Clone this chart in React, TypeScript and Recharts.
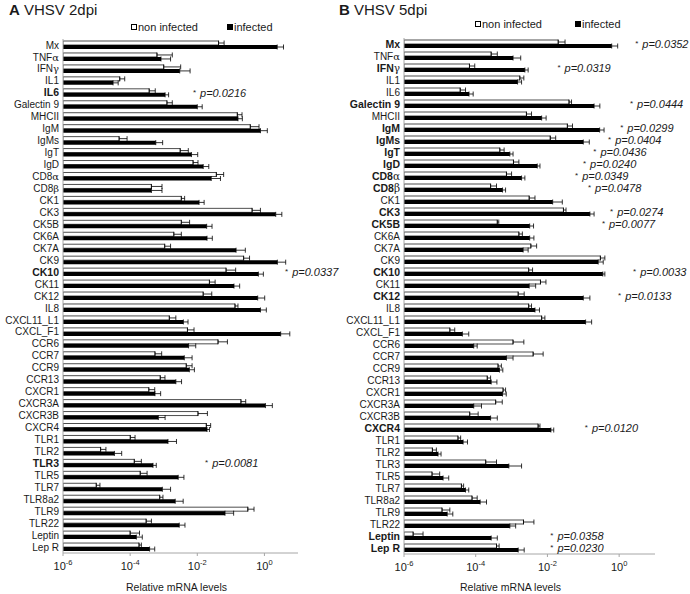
import React from 'react';
import { BarChart, Bar, XAxis, YAxis, ErrorBar, Legend, ReferenceDot } from 'recharts';

const genes = [
  'Mx', 'TNFα', 'IFNγ', 'IL1', 'IL6', 'Galectin 9', 'MHCII', 'IgM', 'IgMs', 'IgT', 'IgD', 'CD8α', 'CD8β',
  'CK1', 'CK3', 'CK5B', 'CK6A', 'CK7A', 'CK9', 'CK10', 'CK11', 'CK12', 'IL8', 'CXCL11_L1', 'CXCL_F1',
  'CCR6', 'CCR7', 'CCR9', 'CCR13', 'CXCR1', 'CXCR3A', 'CXCR3B', 'CXCR4', 'TLR1', 'TLR2', 'TLR3', 'TLR5',
  'TLR7', 'TLR8a2', 'TLR9', 'TLR22', 'Leptin', 'Lep R',
];

const xTicks = [1e-6, 1e-4, 1e-2, 1];

// 2 dpi - mean and top of error bar
const nonInf2 = [
  4.3e-2, 6.3e-4, 1.0e-3, 4.9e-5, 3.7e-4, 1.25e-3, 0.156, 0.38, 4.7e-5, 3.1e-3, 7.5e-3, 3.7e-2, 4.3e-4,
  3.35e-3, 0.43, 3.35e-3, 2.0e-3, 1.07e-3, 0.24, 7.2e-2, 2.3e-2, 1.5e-2, 0.133, 1.47e-3, 5.1e-3,
  4.15e-2, 5.5e-4, 4.7e-3, 7.9e-4, 3.6e-4, 0.2, 1.05e-2, 1.86e-2, 1.01e-4, 1.32e-5, 1.33e-4, 2.0e-4,
  9.8e-6, 7.6e-4, 0.32, 3.0e-4, 1.0e-4, 1.84e-4,
];
const nonInf2Top = [
  6.3e-2, 1.8e-3, 3.2e-3, 6.9e-5, 5.6e-4, 1.8e-3, 0.215, 0.69, 8.1e-5, 5.4e-3, 1.05e-2, 6.1e-2, 8.9e-4,
  4.2e-3, 0.76, 5.9e-3, 3.35e-3, 1.6e-3, 0.36, 0.139, 3.4e-2, 2.7e-2, 0.163, 2.3e-3, 8.0e-3,
  7.9e-2, 8.7e-4, 7.0e-3, 1.09e-3, 5.4e-4, 0.277, 2.0e-2, 2.5e-2, 1.4e-4, 1.9e-5, 2.16e-4, 3.2e-4,
  1.26e-5, 9.5e-4, 0.49, 4.3e-4, 1.9e-4, 2.16e-4,
];
const inf2 = [
  2.4, 8.3e-4, 3.0e-3, 3.1e-5, 1.1e-3, 1.0e-2, 0.163, 0.76, 5.8e-4, 6.7e-3, 1.5e-2, 2.6e-2, 4.3e-4,
  1.13e-2, 2.17, 1.9e-2, 1.95e-2, 0.143, 2.43, 0.66, 0.124, 0.63, 0.76, 3.85e-3, 3.05,
  5.5e-3, 4.1e-3, 5.8e-3, 2.3e-3, 5.5e-4, 1.07, 6.9e-4, 1.95e-2, 1.34e-3, 3.4e-5, 4.8e-4, 2.7e-3,
  9.1e-4, 2.2e-3, 6.7e-2, 2.9e-3, 1.53e-4, 3.8e-4,
];
const inf2Top = [
  3.7, 1.6e-3, 6.1e-3, 4.4e-5, 1.4e-3, 1.4e-2, 0.22, 1.22, 9.3e-4, 1.03e-2, 2.2e-2, 4.9e-2, 8.9e-4,
  1.6e-2, 3.3, 2.75e-2, 2.8e-2, 0.27, 4.3, 0.93, 0.183, 1.02, 1.14, 5.3e-3, 5.7,
  9.0e-3, 7.0e-3, 8.2e-3, 3.4e-3, 8.1e-4, 1.72, 1.1e-3, 2.3e-2, 2.4e-3, 5.6e-5, 6.0e-4, 4.0e-3,
  1.6e-3, 3.8e-3, 0.121, 4.3e-3, 2.3e-4, 5.4e-4,
];

// 5 dpi
const nonInf5 = [
  2.0e-2, 2.7e-4, 6.7e-5, 1.7e-3, 3.7e-5, 4.0e-2, 2.6e-3, 3.6e-2, 1.2e-2, 4.7e-4, 1.13e-3, 7.2e-4, 2.6e-4,
  3.1e-3, 2.8e-2, 4.0e-4, 1.6e-3, 3.45e-3, 0.3, 3.0e-3, 6.4e-3, 1.53e-3, 3.0e-3, 6.9e-3, 1.9e-5,
  1.1e-3, 4.0e-3, 4.2e-4, 2.1e-4, 5.8e-4, 3.6e-4, 6.8e-5, 5.5e-3, 3.2e-5, 6.2e-6, 1.9e-4, 6.05e-6,
  4.0e-5, 7.9e-5, 1.15e-5, 2.15e-3, 1.8e-6, 3.8e-4,
];
const nonInf5Top = [
  3.1e-2, 4.0e-4, 9.4e-5, 2.2e-3, 5.2e-5, 4.7e-2, 3.6e-3, 5.0e-2, 1.7e-2, 6.2e-4, 1.6e-3, 1.0e-3, 3.8e-4,
  4.5e-3, 3.3e-2, 4.4e-4, 2.0e-3, 5.0e-3, 0.4, 3.85e-3, 9.1e-3, 2.25e-3, 3.6e-3, 8.5e-3, 2.6e-5,
  2.2e-3, 7.6e-3, 5.2e-4, 2.6e-4, 6.8e-4, 5.5e-4, 1.17e-4, 6.2e-3, 3.8e-5, 8.0e-6, 3.8e-4, 9.9e-6,
  4.6e-5, 1.1e-4, 1.9e-5, 4.2e-3, 3.4e-6, 4.5e-4,
];
const inf5 = [
  0.62, 1.1e-3, 2.35e-3, 1.47e-3, 6.5e-5, 0.2, 6.9e-3, 0.286, 0.1, 8.95e-4, 5.2e-3, 1.9e-3, 5.6e-4,
  1.4e-2, 0.153, 3.2e-3, 3.2e-3, 2.1e-3, 0.26, 0.35, 3.1e-3, 0.1, 4.5e-3, 0.116, 4.25e-5,
  8.8e-5, 7.2e-4, 4.6e-4, 2.7e-4, 5.6e-4, 8.8e-5, 2.6e-4, 1.25e-2, 4.45e-5, 8.9e-6, 8.4e-4, 1.23e-5,
  5.2e-5, 1.33e-4, 1.6e-5, 8.95e-4, 2.7e-4, 1.53e-3,
];
const inf5Top = [
  0.91, 1.8e-3, 2.9e-3, 1.9e-3, 8.5e-5, 0.29, 9.2e-3, 0.38, 0.147, 1.1e-3, 6.2e-3, 2.35e-3, 6.8e-4,
  2.6e-2, 0.2, 4.1e-3, 4.2e-3, 2.9e-3, 0.36, 0.4, 4.7e-3, 0.153, 6.0e-3, 0.171, 6.4e-5,
  1.1e-4, 1.1e-3, 5.7e-4, 3.9e-4, 7.1e-4, 1.45e-4, 4.0e-4, 1.5e-2, 5.9e-5, 1.08e-5, 1.9e-3, 1.77e-5,
  6.4e-5, 2.0e-4, 2.3e-5, 1.3e-3, 4.0e-4, 2.25e-3,
];

// significance notes: gene, p value, x value where the note starts
const notes2 = [
  { gene: 'IL6', p: '0.0216', at: 7.4e-3 },
  { gene: 'CK10', p: '0.0337', at: 4.1 },
  { gene: 'TLR3', p: '0.0081', at: 1.7e-2 },
];
const notes5 = [
  { gene: 'Mx', p: '0.0352', at: 2.8 },
  { gene: 'IFNγ', p: '0.0319', at: 1.9e-2 },
  { gene: 'Galectin 9', p: '0.0444', at: 2.0 },
  { gene: 'IgM', p: '0.0299', at: 1.07 },
  { gene: 'IgMs', p: '0.0404', at: 0.49 },
  { gene: 'IgT', p: '0.0436', at: 0.19 },
  { gene: 'IgD', p: '0.0240', at: 0.098 },
  { gene: 'CD8α', p: '0.0349', at: 0.059 },
  { gene: 'CD8β', p: '0.0478', at: 0.135 },
  { gene: 'CK3', p: '0.0274', at: 0.56 },
  { gene: 'CK5B', p: '0.0077', at: 0.33 },
  { gene: 'CK10', p: '0.0033', at: 2.45 },
  { gene: 'CK12', p: '0.0133', at: 0.93 },
  { gene: 'CXCR4', p: '0.0120', at: 0.11 },
  { gene: 'Leptin', p: '0.0358', at: 1.2e-2 },
  { gene: 'Lep R', p: '0.0230', at: 1.2e-2 },
];

type Note = { gene: string; p: string; at: number };

const buildRows = (non: number[], nonTop: number[], inf: number[], infTop: number[]) =>
  genes.map((gene, i) => ({
    gene,
    non: non[i],
    nonErr: [0, Math.max(0, nonTop[i] - non[i])],
    inf: inf[i],
    infErr: [0, Math.max(0, infTop[i] - inf[i])],
  }));

const TEXT = '#1a1a1a';
const AXIS = '#a6a6a6';

const GeneTick = ({ x, y, payload, bold }: any) => {
  const name: string = payload.value;
  const greek = /[αβγ]$/.test(name);
  const isBold = bold.has(name);
  return (
    <text x={x} y={y} dy={3.6} textAnchor="end" fontSize={isBold ? 10.5 : 10} fontWeight={isBold ? 'bold' : 'normal'} fill={TEXT}>
      {greek ? name.slice(0, -1) : name}
      {greek && <tspan fontFamily="'DejaVu Serif', serif" fontWeight="normal">{name.slice(-1)}</tspan>}
    </text>
  );
};

const PowerTick = ({ x, y, payload }: any) => {
  const exp = Math.round(Math.log10(payload.value));
  return (
    <text x={x} y={y + 12} textAnchor="middle" fontSize={11} fill={TEXT}>
      10<tspan fontSize={7.5} dy={-5}>{exp}</tspan>
    </text>
  );
};

const PNote = ({ viewBox, x, y, p }: any) => {
  const vx = viewBox ? viewBox.x : x;
  const vy = viewBox ? viewBox.y : y;
  return (
    <text x={vx} y={vy + 4} fontSize={11} fill={TEXT}>
      <tspan fontSize={8} dy={-2}>*</tspan>
      <tspan dx={4} dy={2} fontStyle="italic">p={p}</tspan>
    </text>
  );
};

const KeyItem = ({ left, top, label, fill }: any) => (
  <div style={{ position: 'absolute', left, top, display: 'flex', alignItems: 'center', whiteSpace: 'nowrap', lineHeight: '12px' }}>
    <span style={{ width: 4, height: 4, border: '1px solid #000', background: fill, marginRight: 1 }} />
    {label}
  </div>
);

const Panel = ({ left, rows, notes, yWidth, marginRight, top, labelDx, key1, key2, keyTop }: any) => {
  const bold = new Set(notes.map((n: Note) => n.gene));
  return (
    <div style={{ position: 'absolute', left, top: 0 }}>
      <BarChart
        width={345}
        height={594}
        data={rows}
        layout="vertical"
        margin={{ top, right: marginRight, bottom: 0, left: 0 }}
        barGap={0}
        barSize={4}
      >
        <XAxis
          type="number"
          scale="log"
          domain={[1e-6, 10]}
          allowDataOverflow
          ticks={xTicks}
          tick={<PowerTick />}
          tickSize={3}
          tickMargin={2}
          stroke={AXIS}
          height={594 - top - (top === 39 ? 514 : 516)}
          label={{ value: 'Relative mRNA levels', position: 'insideBottom', offset: 3, dx: labelDx, fontSize: 10.5, fill: TEXT }}
        />
        <YAxis
          type="category"
          dataKey="gene"
          width={yWidth}
          interval={0}
          tickLine={false}
          tickSize={0}
          tickMargin={4}
          stroke={AXIS}
          tick={(props: any) => <GeneTick {...props} bold={bold} />}
        />
        <Legend
          verticalAlign="middle"
          align="center"
          wrapperStyle={{ top: 0, left: 0, width: 345, height: 36 }}
          content={() => (
            <div style={{ position: 'relative', height: 36, fontSize: 11, color: TEXT }}>
              <KeyItem left={key1} top={keyTop} label="non infected" fill="#fff" />
              <KeyItem left={key2} top={keyTop} label="infected" fill="#000" />
            </div>
          )}
        />
        <Bar dataKey="non" fill="#fff" stroke="#000" strokeWidth={0.7} isAnimationActive={false}>
          <ErrorBar dataKey="nonErr" direction="x" width={2.5} stroke="#000" strokeWidth={0.8} />
        </Bar>
        <Bar dataKey="inf" fill="#000" isAnimationActive={false}>
          <ErrorBar dataKey="infErr" direction="x" width={2.5} stroke="#000" strokeWidth={0.8} />
        </Bar>
        {notes.map((n: Note) => (
          <ReferenceDot
            key={n.gene}
            x={n.at}
            y={n.gene}
            r={0}
            fill="none"
            stroke="none"
            label={(props: any) => <PNote {...props} p={n.p} />}
          />
        ))}
      </BarChart>
    </div>
  );
};

export default function App() {
  const rows2 = buildRows(nonInf2, nonInf2Top, inf2, inf2Top);
  const rows5 = buildRows(nonInf5, nonInf5Top, inf5, inf5Top);
  return (
    <div
      style={{
        position: 'absolute',
        left: 0,
        top: 0,
        width: 690,
        height: 594,
        background: '#fff',
        fontFamily: "'Liberation Sans', Arial, sans-serif",
        color: TEXT,
      }}
    >
      <Panel left={0} rows={rows2} notes={notes2} yWidth={63} marginRight={47} top={39} labelDx={-4}
        key1={131} key2={227} keyTop={21} />
      <Panel left={345} rows={rows5} notes={notes5} yWidth={59} marginRight={35} top={38} labelDx={-19}
        key1={130} key2={230} keyTop={18} />
      <div style={{ position: 'absolute', left: 9, top: 2, fontSize: 15, lineHeight: '15px', whiteSpace: 'nowrap' }}>
        <b>A</b> VHSV 2dpi
      </div>
      <div style={{ position: 'absolute', left: 339, top: 2, fontSize: 15, lineHeight: '15px', whiteSpace: 'nowrap' }}>
        <b>B</b> VHSV 5dpi
      </div>
    </div>
  );
}
